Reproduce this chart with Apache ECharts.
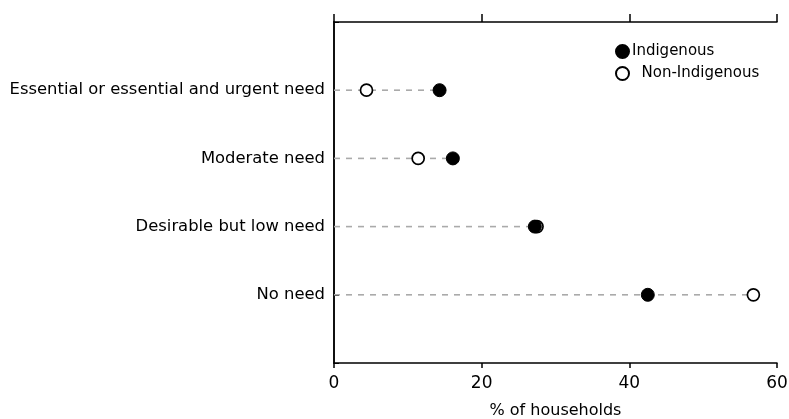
<!DOCTYPE html>
<html><head><meta charset="utf-8">
<script src="https://cdn.jsdelivr.net/npm/echarts@6/dist/echarts.min.js"></script>
<style>html,body{margin:0;padding:0;background:#fff}#c{width:789px;height:419px}</style>
</head><body><div id="c"></div>
<script>
const categories = ['Essential or essential and urgent need', 'Moderate need', 'Desirable but low need', 'No need'];
const indigenous = [14.3, 16.1, 27.2, 42.5];
const nonIndigenous = [4.4, 11.4, 27.5, 56.8];
const xTicks = [0, 20, 40, 60];

const font = 'DejaVu Sans';
const yCats = [''].concat(categories, ['']);
const chart = echarts.init(document.getElementById('c'));
const lineSeries = categories.map((c, i) => ({
  type: 'line', silent: true, symbol: 'none', z: 1,
  xAxisIndex: 0, yAxisIndex: 0,
  lineStyle: { color: '#aaa', width: 1.6, type: [6, 6] },
  data: [[0, c], [Math.max(indigenous[i], nonIndigenous[i]), c]]
}));
chart.setOption({
  animation: false,
  textStyle: { fontFamily: font },
  grid: { left: 334, right: 12, top: 22, bottom: 56, containLabel: false, outerBoundsMode: 'none' },
  legend: {
    left: 610, top: 39, orient: 'vertical', itemGap: 7,
    itemWidth: 13, itemHeight: 13,
    textStyle: { fontFamily: font, fontSize: 15, color: '#000', padding: [0, 0, 0, -2] },
    formatter: n => n === 'Non-Indigenous' ? '  ' + n : n,
    data: [
      { name: 'Indigenous', icon: 'circle' },
      { name: 'Non-Indigenous', icon: 'circle' }
    ]
  },
  xAxis: [{
    type: 'value', min: xTicks[0], max: xTicks[xTicks.length - 1], interval: 20, position: 'bottom',
    name: '% of households', nameLocation: 'middle', nameGap: 40,
    nameTextStyle: { fontFamily: font, fontSize: 16, color: '#000' },
    axisLine: { show: true, lineStyle: { color: '#000', width: 1.5 } },
    axisTick: { show: true, length: 5, lineStyle: { color: '#000', width: 1.5 } },
    axisLabel: { fontFamily: font, fontSize: 17, color: '#000', margin: 12 },
    splitLine: { show: false }
  }, {
    type: 'value', min: xTicks[0], max: xTicks[xTicks.length - 1], interval: 20, position: 'top',
    axisLine: { show: true, lineStyle: { color: '#000', width: 1.5 } },
    axisTick: { show: true, length: 8, lineStyle: { color: '#000', width: 1.5 } },
    axisLabel: { show: false }, splitLine: { show: false }
  }],
  yAxis: [{
    type: 'category', data: yCats, inverse: true, boundaryGap: false, position: 'left',
    axisLine: { show: true, lineStyle: { color: '#000', width: 1.5 } },
    axisTick: { show: true, inside: true, length: 5, lineStyle: { color: '#000', width: 1 } },
    axisLabel: { fontFamily: font, fontSize: 16.4, color: '#000', margin: 9 },
    splitLine: { show: false }
  }, {
    type: 'category', data: yCats, inverse: true, boundaryGap: false, position: 'right',
    axisLine: { show: true, lineStyle: { color: '#000', width: 1.5 } },
    axisTick: { show: false }, axisLabel: { show: false }, splitLine: { show: false }
  }],
  series: lineSeries.concat([{
    name: 'Indigenous', type: 'scatter', symbolSize: 13, z: 3,
    itemStyle: { color: '#000', borderColor: '#000', borderWidth: 1, opacity: 1 },
    data: indigenous.map((v, i) => [v, categories[i]])
  }, {
    name: 'Non-Indigenous', type: 'scatter', symbolSize: 12, z: 2,
    itemStyle: { color: '#fff', borderColor: '#000', borderWidth: 1.7, opacity: 1 },
    data: nonIndigenous.map((v, i) => [v, categories[i]])
  }])
});
</script></body></html>
